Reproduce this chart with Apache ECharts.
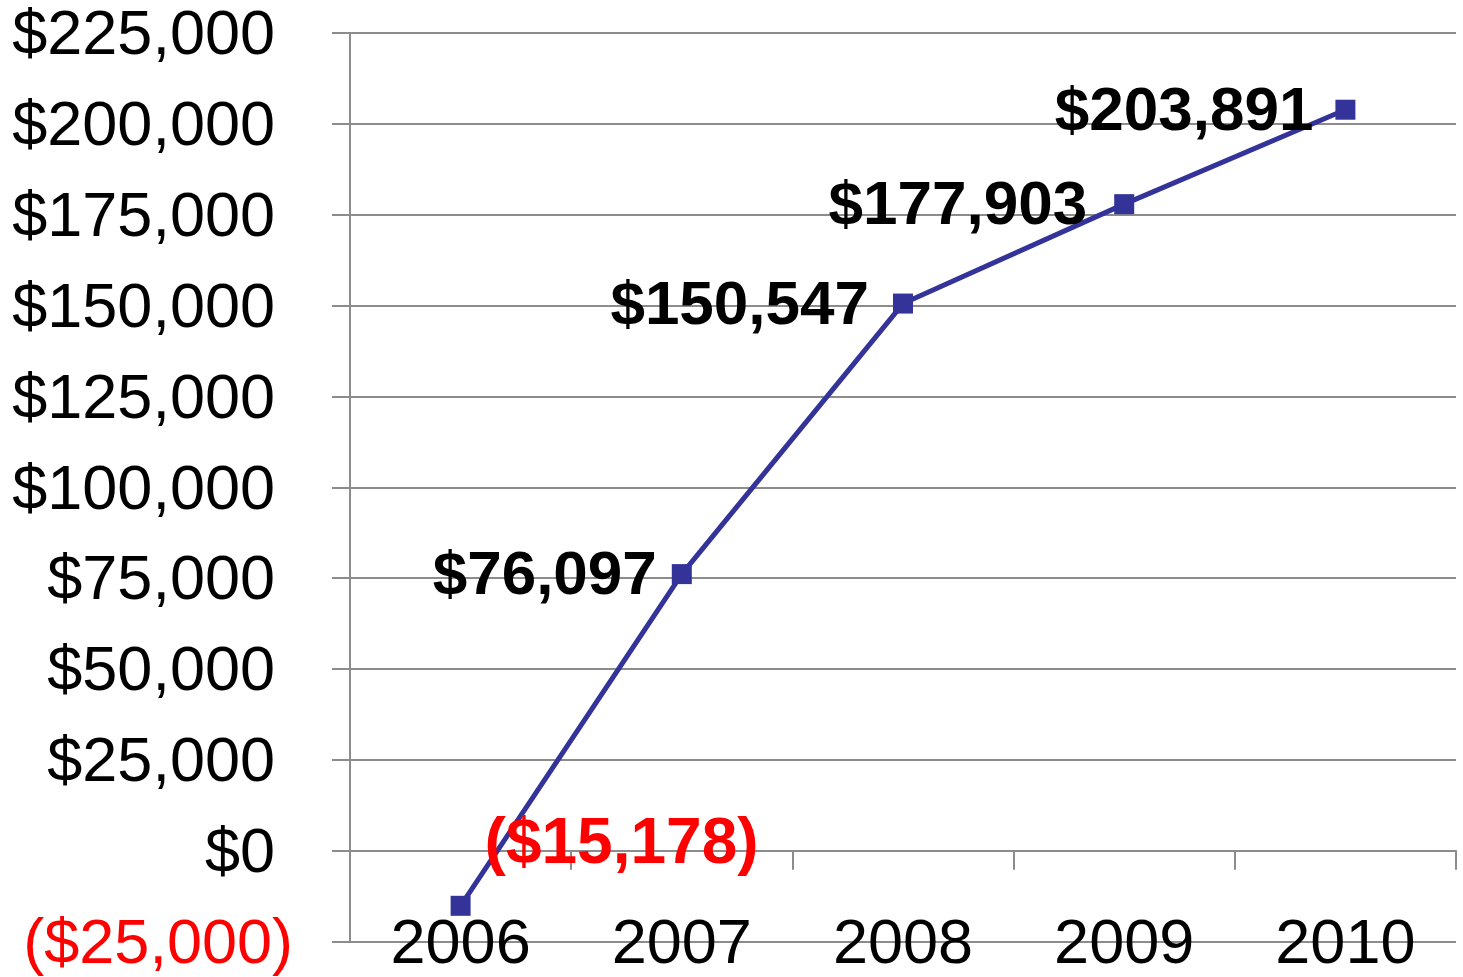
<!DOCTYPE html>
<html>
<head>
<meta charset="utf-8">
<script src="https://cdn.jsdelivr.net/npm/echarts@6/dist/echarts.min.js"></script>
<style>
html,body{margin:0;padding:0;background:#fff;}
#chart{width:1463px;height:977px;}
</style>
</head>
<body>
<div id="chart"></div>
<script>
var years = ['2006', '2007', '2008', '2009', '2010'];
var values = [-15178, 76097, 150547, 177903, 203891];
var yMin = -25000, yMax = 225000, yStep = 25000;

// label gap (style only)
var labelGap = [0, 15, 24, 27, 22];

function money(v) {
  var s = '$' + Math.abs(v).toString().replace(/\B(?=(\d{3})+(?!\d))/g, ',');
  return v < 0 ? '(' + s + ')' : s;
}

var FONT = '"Liberation Sans", Arial, sans-serif';
var GRAY = '#8c8c8c';
var LINE = '#333399';

var seriesData = values.map(function (v, i) {
  var lbl;
  if (v < 0) {
    lbl = { position: 'inside', offset: [161, -60], color: '#ff0000', align: 'center', verticalAlign: 'middle', fontSize: 64 };
  } else {
    lbl = { position: 'left', distance: labelGap[i], offset: [0, 3], color: '#000' };
  }
  return { value: v, label: lbl };
});

var chart = echarts.init(document.getElementById('chart'), null, { renderer: 'canvas' });
chart.setOption({
  animation: false,
  backgroundColor: '#fff',
  grid: { left: 350, right: 7, top: 33, bottom: 33, containLabel: false },
  xAxis: [
    {
      type: 'category',
      data: years,
      position: 'bottom',
      boundaryGap: true,
      axisLine: { show: false, onZero: false },
      axisTick: { show: false },
      splitLine: { show: false },
      axisLabel: { fontFamily: FONT, fontSize: 63, color: '#000', margin: 4, verticalAlign: 'middle' }
    },
    {
      type: 'category',
      data: years,
      position: 'bottom',
      boundaryGap: true,
      axisLine: { show: true, onZero: true, lineStyle: { color: GRAY, width: 2 } },
      axisTick: { show: true, inside: false, length: 19, lineStyle: { color: GRAY, width: 2 } },
      axisLabel: { show: false },
      splitLine: { show: false }
    }
  ],
  yAxis: {
    type: 'value',
    min: yMin,
    max: yMax,
    interval: yStep,
    axisLine: { show: true, lineStyle: { color: GRAY, width: 2 } },
    axisTick: { show: true, length: 18, lineStyle: { color: GRAY, width: 2 } },
    splitLine: { show: true, lineStyle: { color: GRAY, width: 2 } },
    axisLabel: {
      margin: 57,
      formatter: function (v) {
        return v < 0 ? '{n|' + money(v) + '}' : '{p|' + money(v) + '}';
      },
      rich: {
        p: { fontFamily: FONT, fontSize: 63, color: '#000', padding: [8, 18, 0, 0] },
        n: { fontFamily: FONT, fontSize: 63, color: '#ff0000', padding: [8, 0, 0, 0] }
      }
    }
  },
  series: [{
    type: 'line',
    xAxisIndex: 0,
    data: seriesData,
    symbol: 'rect',
    symbolSize: 20,
    itemStyle: { color: LINE },
    lineStyle: { color: LINE, width: 5 },
    label: {
      show: true,
      fontFamily: FONT,
      fontSize: 62,
      fontWeight: 'bold',
      formatter: function (p) { return money(p.value); }
    }
  }]
});
</script>
</body>
</html>
